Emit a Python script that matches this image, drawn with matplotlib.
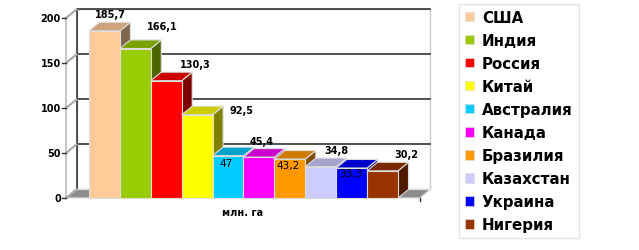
import matplotlib
matplotlib.use('Agg')
import matplotlib.pyplot as plt
from matplotlib.patches import Polygon, Patch
from matplotlib.colors import to_rgb

# data
countries = ['США', 'Индия', 'Россия', 'Китай', 'Австралия',
             'Канада', 'Бразилия', 'Казахстан', 'Украина', 'Нигерия']
areas = [185.7, 166.1, 130.3, 92.5, 47, 45.4, 43.2, 34.8, 33.3, 30.2]
area_labels = ['185,7', '166,1', '130,3', '92,5', '47',
               '45,4', '43,2', '34,8', '33,3', '30,2']
colors = ['#ffcc99', '#99cc00', '#ff0000', '#ffff00', '#00ccff',
          '#ff00ff', '#ff9900', '#ccccff', '#0000ff', '#993300']
yticks = [0, 50, 100, 150, 200]
xlabel = 'млн. га'

# label placement (offset from bar left edge, offset from bar top) - as in the picture
lab_dx = [0.68, 1.36, 1.43, 1.95, 0.43, 0.60, 0.44, 1.00, 0.48, 1.26]
lab_dy = [18.9, 25.0, 18.6, 5.3, -8.1, 17.9, -6.6, 18.5, -5.6, 18.7]
lab_inside = [False, False, False, False, True, False, True, False, True, False]

# geometry
px_x = 30.9   # px per bar
px_y = 0.9    # px per value unit
DX = 0.34     # depth offset, x
DY = 9.5      # depth offset, y
ymax = 200
x_front = -0.744
x_end = len(areas) + 0.71


def shade(c, f):
    r, g, b = to_rgb(c)
    return (r * f, g * f, b * f)


fig = plt.figure(figsize=(6.39, 2.51), dpi=100)
ax = fig.add_axes([0, 0, 1, 1])
ax.set_xlim(-89 / px_x, (639 - 89) / px_x)
ax.set_ylim(-(251 - 199) / px_y, 199 / px_y)
ax.axis('off')

# back wall + grid
wall = Polygon([(x_front + DX, DY), (x_end + DX, DY), (x_end + DX, ymax + DY),
                (x_front + DX, ymax + DY)], closed=True, facecolor='white',
               edgecolor='#cccccc', lw=1, zorder=1)
ax.add_patch(wall)
for t in yticks[1:]:
    ax.plot([x_front + DX, x_end + DX], [t + DY, t + DY], color='#333333', lw=1.2, zorder=2)
ax.plot([x_front + DX, x_front + DX], [DY, ymax + DY], color='#333333', lw=1.2, zorder=2)

# floor
floor = Polygon([(x_front, 0), (x_end, 0), (x_end + DX, DY), (x_front + DX, DY)],
                closed=True, facecolor='#8c8c8c', edgecolor='#dddddd', lw=1, zorder=3)
ax.add_patch(floor)
ax.plot([x_end, x_end], [0, -3.5], color='#333333', lw=1, zorder=3)

# front axis with ticks and diagonals
ax.plot([x_front, x_front], [0, ymax], color='#bbbbbb', lw=1.2, zorder=3)
for t in yticks:
    ax.plot([x_front, x_front + DX], [t, t + DY], color='#aaaaaa', lw=1.6, zorder=3)
    ax.plot([x_front - 0.13, x_front], [t, t], color='#333333', lw=1, zorder=3)
    ax.text(x_front - 0.17, t, str(t), ha='right', va='center',
            fontsize=7, fontweight='bold', color='black', zorder=3)

# bars
for i, (v, c) in enumerate(zip(areas, colors)):
    z = 10 + i
    side = Polygon([(i + 1, 0), (i + 1 + DX, DY), (i + 1 + DX, v + DY), (i + 1, v)],
                   closed=True, facecolor=shade(c, 0.5), edgecolor='#dddddd', lw=0.8, zorder=z)
    top = Polygon([(i, v), (i + 1, v), (i + 1 + DX, v + DY), (i + DX, v + DY)],
                  closed=True, facecolor=shade(c, 0.8), edgecolor='#dddddd', lw=0.8, zorder=z)
    ax.add_patch(side)
    ax.add_patch(top)
    ax.bar(i, v, width=1, align='edge', color=c, edgecolor='#dddddd', lw=0.8, zorder=z)

for i, v in enumerate(areas):
    ax.text(i + lab_dx[i], v + lab_dy[i], area_labels[i], ha='center', va='center',
            fontsize=7.5 if lab_inside[i] else 7,
            fontweight='normal' if lab_inside[i] else 'bold', color='black', zorder=30)

ax.text((243 - 89) / px_x, -(213 - 199) / px_y, xlabel, ha='center', va='center',
        fontsize=7, fontweight='bold', zorder=30)

# legend
handles = [Patch(facecolor=c, edgecolor='#dddddd', lw=0.5) for c in colors]
leg = fig.legend(handles, countries, loc='upper left', bbox_to_anchor=(0.718, 0.982),
                 frameon=True, fancybox=False, edgecolor='#dddddd',
                 prop={'size': 10.8, 'weight': 'bold'},
                 handlelength=0.62, handleheight=0.62, handletextpad=0.5,
                 labelspacing=0.535, borderpad=0.42, borderaxespad=0)
leg.get_frame().set_linewidth(1)

fig.savefig('out.png', dpi=100)
